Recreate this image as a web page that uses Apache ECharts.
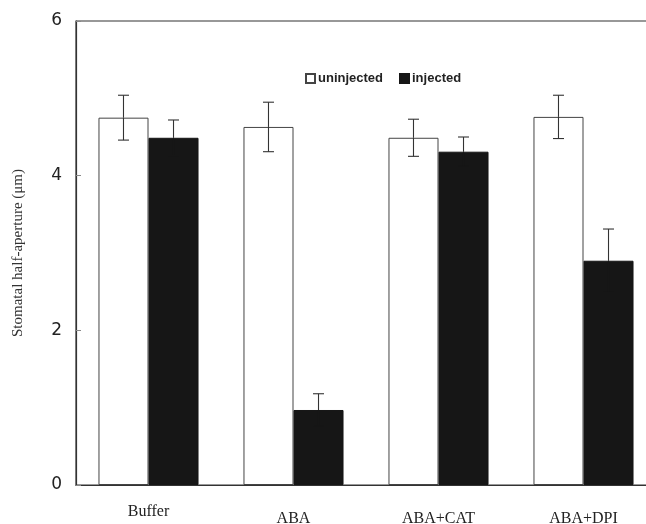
<!DOCTYPE html>
<html>
<head>
<meta charset="utf-8">
<script src="https://cdn.jsdelivr.net/npm/echarts@6/dist/echarts.min.js"></script>
<style>
  html, body { margin: 0; padding: 0; background: #fff; }
  #chart { width: 646px; height: 524px; }
</style>
</head>
<body>
<div id="chart"></div>
<script>
// data
var categories = ['Buffer', 'ABA', 'ABA+CAT', 'ABA+DPI'];
var uninjected = [4.75, 4.63, 4.49, 4.76];
var uninjectedErr = [0.29, 0.32, 0.24, 0.28];
var injected = [4.49, 0.97, 4.31, 2.90];
var injectedErr = [0.23, 0.21, 0.19, 0.41];
var yTicks = [0, 2, 4, 6];

var CAT_GAP = 0.31;

// error bars; lower half of the injected ones sits inside the black bar
function errorSeries(name, values, errs, side, lowColor) {
    return {
        name: name + ' err',
        type: 'custom',
        z: 5,
        data: values.map(function (v, i) { return [i, v, errs[i]]; }),
        renderItem: function (params, api) {
            var i = api.value(0), v = api.value(1), e = api.value(2);
            var band = api.size([1, 0])[0];
            var barW = band * (1 - CAT_GAP) / 2;
            var center = api.coord([i, v])[0] + side * barW / 2;
            var top = api.coord([i, v + e])[1];
            var mid = api.coord([i, v])[1];
            var bot = api.coord([i, v - e])[1];
            var cap = 5.5;
            var style = { stroke: '#333', lineWidth: 1.1 };
            var low = { stroke: lowColor, lineWidth: 1.1 };
            return {
                type: 'group',
                children: [
                    { type: 'line', shape: { x1: center, y1: top, x2: center, y2: mid }, style: style },
                    { type: 'line', shape: { x1: center, y1: mid, x2: center, y2: bot }, style: low },
                    { type: 'line', shape: { x1: center - cap, y1: top, x2: center + cap, y2: top }, style: style },
                    { type: 'line', shape: { x1: center - cap, y1: bot, x2: center + cap, y2: bot }, style: low }
                ]
            };
        }
    };
}

var chart = echarts.init(document.getElementById('chart'));
var option = {
    backgroundColor: '#fff',
    animation: false,
    grid: {
        left: 76, top: 21, bottom: 39, right: -10,
        outerBoundsMode: 'none',
        containLabel: false,
        show: true, borderColor: '#333', borderWidth: 1.2
    },
    legend: {
        data: ['uninjected', 'injected'],
        left: 300, top: 67,
        itemWidth: 9, itemHeight: 9, itemGap: 16,
        icon: 'rect',
        textStyle: { fontFamily: 'Liberation Sans', fontWeight: 'bold', fontSize: 13, color: '#222', padding: [0, 0, 0, -2] }
    },
    xAxis: {
        type: 'category',
        data: categories,
        axisLine: { show: true, lineStyle: { color: '#333', width: 1.2 } },
        axisTick: { show: false },
        axisLabel: {
            margin: 19,
            formatter: function (val) {
                return val === 'Buffer' ? '{a|' + val + '}' : '{b|' + val + '}';
            },
            rich: {
                a: { fontFamily: 'Liberation Serif', fontSize: 16, color: '#222' },
                b: { fontFamily: 'Liberation Serif', fontSize: 16, color: '#222', padding: [7, 0, 0, 0] }
            }
        }
    },
    yAxis: {
        type: 'value',
        min: yTicks[0], max: yTicks[yTicks.length - 1], interval: 2,
        name: 'Stomatal half-aperture (\u03bcm)',
        nameLocation: 'middle',
        nameGap: 50,
        nameTextStyle: { fontFamily: 'Liberation Serif', fontSize: 15, color: '#333' },
        axisLine: { show: true, lineStyle: { color: '#333', width: 1.2 } },
        axisTick: { show: true, inside: true, length: 5, lineStyle: { color: '#888' } },
        splitLine: { show: false },
        axisLabel: { margin: 14, fontFamily: 'DejaVu Sans', fontSize: 17, color: '#222' }
    },
    series: [
        {
            name: 'uninjected', type: 'bar', data: uninjected,
            barGap: '0%', barCategoryGap: (CAT_GAP * 100) + '%',
            itemStyle: { color: '#fff', borderColor: '#444', borderWidth: 1 }
        },
        {
            name: 'injected', type: 'bar', data: injected,
            itemStyle: { color: '#161616', borderColor: '#161616', borderWidth: 1 }
        },
        errorSeries('uninjected', uninjected, uninjectedErr, -1, '#333'),
        errorSeries('injected', injected, injectedErr, 1, '#161616')
    ]
};
chart.setOption(option);
</script>
</body>
</html>
